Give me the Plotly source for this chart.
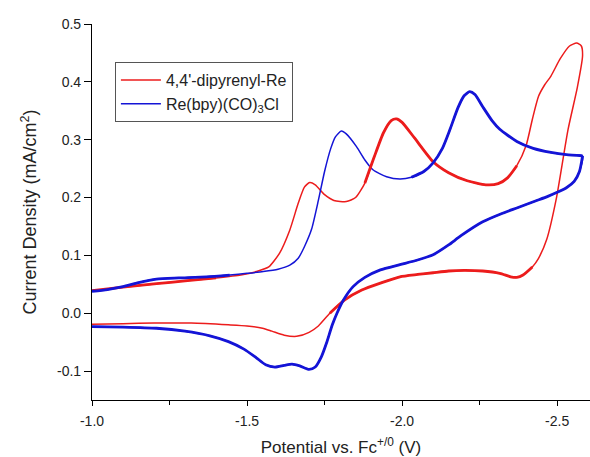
import plotly.graph_objects as go

# ---------------- data ----------------
# 4,4'-dipyrenyl-Re : forward (cathodic) scan
red_fwd_E = [-1.00, -1.10, -1.208, -1.30, -1.40, -1.48, -1.53, -1.57, -1.605, -1.638,
             -1.665, -1.685, -1.702, -1.72, -1.75, -1.78, -1.82, -1.85, -1.88, -1.91,
             -1.94, -1.965, -1.982, -2.00, -2.04, -2.10, -2.15, -2.21, -2.27, -2.31,
             -2.34, -2.37, -2.40, -2.42, -2.44, -2.46, -2.48, -2.51, -2.54, -2.563,
             -2.578, -2.582]
red_fwd_J = [0.039, 0.045, 0.051, 0.056, 0.061, 0.066, 0.072, 0.080, 0.104, 0.144,
             0.190, 0.218, 0.226, 0.222, 0.205, 0.195, 0.193, 0.200, 0.225, 0.270,
             0.312, 0.333, 0.336, 0.330, 0.303, 0.262, 0.243, 0.229, 0.222, 0.224,
             0.234, 0.255, 0.290, 0.335, 0.375, 0.395, 0.410, 0.440, 0.462, 0.467,
             0.462, 0.445]
# 4,4'-dipyrenyl-Re : return (anodic) scan
red_ret_E = [-2.582, -2.565, -2.535, -2.498, -2.466, -2.44, -2.42, -2.39, -2.37, -2.35,
             -2.315, -2.26, -2.20, -2.15, -2.10, -2.05, -1.993, -1.93, -1.87, -1.815,
             -1.767, -1.73, -1.70, -1.66, -1.62, -1.58, -1.55, -1.50, -1.44, -1.32,
             -1.20, -1.10, -1.00]
red_ret_J = [0.445, 0.390, 0.317, 0.200, 0.127, 0.095, 0.080, 0.066, 0.062, 0.063,
             0.069, 0.073, 0.074, 0.073, 0.070, 0.067, 0.063, 0.052, 0.040, 0.023,
             0.000, -0.022, -0.033, -0.040, -0.038, -0.031, -0.026, -0.022, -0.020, -0.017,
             -0.017, -0.018, -0.019]

# Re(bpy)(CO)3Cl : forward scan
blue_fwd_E = [-1.00, -1.05, -1.10, -1.15, -1.208, -1.28, -1.369, -1.444, -1.50, -1.552,
              -1.60, -1.638, -1.665, -1.685, -1.708, -1.73, -1.75, -1.77, -1.785, -1.804,
              -1.82, -1.853, -1.88, -1.906, -1.95, -1.993, -2.03, -2.07, -2.10, -2.13,
              -2.154, -2.18, -2.20, -2.218, -2.235, -2.26, -2.29, -2.315, -2.37, -2.423,
              -2.48, -2.53, -2.582]
blue_fwd_J = [0.038, 0.041, 0.046, 0.053, 0.059, 0.061, 0.063, 0.066, 0.069, 0.072,
              0.076, 0.083, 0.095, 0.115, 0.145, 0.195, 0.245, 0.285, 0.305, 0.315,
              0.310, 0.288, 0.265, 0.248, 0.236, 0.232, 0.235, 0.245, 0.260, 0.285,
              0.317, 0.355, 0.376, 0.383, 0.378, 0.357, 0.333, 0.318, 0.297, 0.285,
              0.278, 0.274, 0.272]
# Re(bpy)(CO)3Cl : return scan
blue_ret_E = [-2.582, -2.572, -2.555, -2.53, -2.50, -2.47, -2.43, -2.37, -2.32, -2.26,
              -2.19, -2.15, -2.10, -2.05, -1.993, -1.93, -1.88, -1.842, -1.81, -1.79,
              -1.775, -1.756, -1.74, -1.72, -1.70, -1.67, -1.645, -1.62, -1.59, -1.56,
              -1.53, -1.49, -1.44, -1.38, -1.30, -1.208, -1.10, -1.00]
blue_ret_J = [0.272, 0.245, 0.228, 0.217, 0.209, 0.202, 0.194, 0.182, 0.172, 0.158,
              0.134, 0.118, 0.101, 0.092, 0.084, 0.075, 0.062, 0.046, 0.022, 0.000,
              -0.020, -0.052, -0.075, -0.093, -0.097, -0.091, -0.088, -0.090, -0.093, -0.089,
              -0.077, -0.062, -0.049, -0.039, -0.031, -0.026, -0.024, -0.023]

x_ticks = [-1.0, -1.5, -2.0, -2.5]
y_ticks = [-0.1, 0.0, 0.1, 0.2, 0.3, 0.4, 0.5]

RED = "#EC1C1C"
BLUE = "#1414D6"
FONT = "Liberation Sans, Arial, sans-serif"

fig = go.Figure()


def add(E, J, color, width, name=None, legend=False):
    fig.add_trace(go.Scatter(
        x=E, y=J, mode="lines", name=name, showlegend=legend,
        line=dict(color=color, width=width, shape="spline", smoothing=0.6),
        hoverinfo="skip"))


def segment(E, J, lo, hi):
    xs, ys = [], []
    for e, j in zip(E, J):
        if lo <= -e <= hi:
            xs.append(e)
            ys.append(j)
    return xs, ys


# thin full loops (legend entries)
add(red_fwd_E + red_ret_E[1:], red_fwd_J + red_ret_J[1:], RED, 1.5,
    "4,4'-dipyrenyl-Re", True)
add(blue_fwd_E + blue_ret_E[1:], blue_fwd_J + blue_ret_J[1:], BLUE, 1.5,
    "Re(bpy)(CO)<sub>3</sub>Cl", True)

# thicker overlapping-scan portions
for (E, J, lo, hi, c) in [
    (red_fwd_E, red_fwd_J, 1.0, 1.45, RED),
    (red_fwd_E, red_fwd_J, 1.86, 2.37, RED),
    (red_ret_E, red_ret_J, 1.75, 2.43, RED),
    (blue_fwd_E, blue_fwd_J, 1.0, 1.46, BLUE),
    (blue_fwd_E, blue_fwd_J, 2.0, 2.6, BLUE),
    (blue_ret_E, blue_ret_J, 1.0, 2.6, BLUE),
]:
    xs, ys = segment(E, J, lo, hi)
    add(xs, ys, c, 2.8)

fig.update_layout(
    width=590, height=457,
    margin=dict(l=92, r=0, t=24, b=57),
    paper_bgcolor="white", plot_bgcolor="white",
    font=dict(family=FONT, size=14, color="#222"),
    legend=dict(x=0.046, y=0.899, xanchor="left", yanchor="top",
                bgcolor="white", bordercolor="#555", borderwidth=1,
                font=dict(family=FONT, size=16, color="#222"),
                tracegroupgap=0, itemwidth=40),
)

fig.update_xaxes(
    range=[-1.0, -2.606], tickvals=x_ticks, ticktext=[f"{v:.1f}" for v in x_ticks],
    showline=True, linecolor="black", linewidth=1.2, mirror=False,
    ticks="outside", ticklen=5, tickwidth=1.2, tickcolor="black",
    minor=dict(dtick=0.25, tick0=-1.0, ticks="outside", ticklen=4,
               tickwidth=1.2, tickcolor="black"),
    showgrid=False, zeroline=False,
    tickfont=dict(size=14), ticklabelstandoff=3,
    title=dict(text="Potential vs. Fc<sup>+/0</sup> (V)", font=dict(size=17), standoff=15),
)
fig.update_yaxes(
    range=[-0.15, 0.5], tickvals=y_ticks, ticktext=[f"{v:.1f}" for v in y_ticks],
    showline=True, linecolor="black", linewidth=1.2, mirror=False,
    ticks="outside", ticklen=7, tickwidth=1.2, tickcolor="black",
    showgrid=False, zeroline=False,
    tickfont=dict(size=14),
    title=dict(text="Current Density (mA/cm<sup>2</sup>)", font=dict(size=18), standoff=15),
)

fig.write_html("out.html")
